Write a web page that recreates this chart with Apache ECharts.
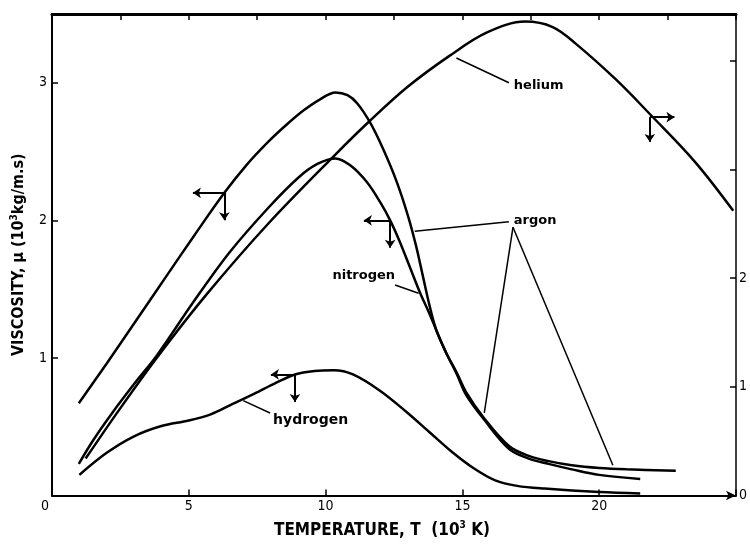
<!DOCTYPE html>
<html>
<head>
<meta charset="utf-8">
<script src="https://cdn.jsdelivr.net/npm/echarts@6/dist/echarts.min.js"></script>
<style>html,body{margin:0;padding:0;background:#fff}#c{width:750px;height:544px}</style>
</head>
<body>
<div id="c"></div>
<script>
// Temperature (10^3 K) and viscosity values
const argonT = [0.98, 2.0, 3.0, 4.2, 5.2, 6.3, 7.1, 7.9, 8.6, 9.2, 9.8, 10.36, 10.8, 11.16, 11.63, 12.1, 12.6, 13.0, 13.3, 13.55, 13.8, 14.05, 14.4, 14.8, 15.14, 15.8, 16.7, 17.4, 18.15, 19.0, 20.0, 21.0, 22.8];
const argonMu = [0.67, 0.96, 1.25, 1.60, 1.89, 2.20, 2.40, 2.57, 2.70, 2.80, 2.88, 2.93, 2.91, 2.85, 2.71, 2.52, 2.28, 2.04, 1.82, 1.60, 1.38, 1.20, 1.04, 0.89, 0.75, 0.56, 0.36, 0.29, 0.25, 0.22, 0.20, 0.19, 0.18];

const nitrogenT = [0.98, 1.5, 2.2, 3.0, 3.84, 5.18, 6.5, 7.9, 9.0, 9.7, 10.36, 10.9, 11.5, 12.0, 12.36, 12.7, 13.1, 13.46, 13.8, 14.05, 14.4, 14.8, 15.14, 15.8, 16.7, 17.4, 18.15, 19.0, 20.0, 21.5];
const nitrogenMu = [0.23, 0.40, 0.60, 0.81, 1.02, 1.41, 1.77, 2.09, 2.31, 2.41, 2.45, 2.40, 2.28, 2.13, 2.00, 1.85, 1.65, 1.47, 1.32, 1.20, 1.04, 0.88, 0.73, 0.55, 0.34, 0.27, 0.23, 0.19, 0.15, 0.12];

const heliumT = [1.23, 2.46, 3.84, 5.65, 7.9, 10.33, 11.63, 13.0, 14.5, 15.9, 17.3, 18.3, 19.13, 20.6, 21.85, 23.5, 24.9];
const heliumMu = [0.34, 0.79, 1.27, 1.85, 2.50, 3.13, 3.45, 3.76, 4.04, 4.26, 4.36, 4.31, 4.16, 3.83, 3.51, 3.07, 2.62];

const hydrogenT = [1.0, 2.0, 3.0, 4.0, 5.0, 5.8, 6.5, 7.4, 8.2, 8.88, 9.6, 10.3, 11.0, 12.0, 13.0, 13.8, 14.6, 15.4, 16.2, 17.0, 18.0, 20.0, 21.5];
const hydrogenMu = [0.15, 0.31, 0.43, 0.505, 0.545, 0.59, 0.655, 0.74, 0.82, 0.88, 0.905, 0.91, 0.88, 0.76, 0.60, 0.46, 0.32, 0.20, 0.11, 0.07, 0.05, 0.025, 0.015];

// Annotation anchors (data units, left axis)
const labelNames = ['helium', 'argon', 'nitrogen', 'hydrogen'];
const labelAt = [[16.88, 2.98], [16.88, 2.00], [10.25, 1.60], [8.08, 0.545]];
const labelSizes = [13, 13, 13, 14];
const pointerLines = [
  [[16.7, 3.00], [14.78, 3.18]],
  [[16.7, 1.99], [13.26, 1.92]],
  [[16.85, 1.95], [15.8, 0.60]],
  [[16.85, 1.95], [20.5, 0.22]],
  [[12.54, 1.53], [13.4, 1.47]],
  [[7.97, 0.60], [6.99, 0.69]]
];
const arrowLines = [
  [[6.3, 2.20], [5.15, 2.20]], [[6.3, 2.20], [6.3, 2.00]],
  [[12.36, 2.00], [11.4, 2.00]], [[12.36, 2.00], [12.36, 1.80]],
  [[8.88, 0.88], [8.0, 0.88]], [[8.88, 0.88], [8.88, 0.68]],
  [[21.85, 2.75], [22.75, 2.75]], [[21.85, 2.75], [21.85, 2.57]]
];
const xTicks = [0, 5, 10, 15, 20];
const leftTicks = [1, 2, 3];
const rightTicks = [0, 1, 2];

const zip = (a, b) => a.map((v, i) => [v, b[i]]);
const tickFont = "'Liberation Sans Narrow','DejaVu Sans Condensed','Liberation Sans',sans-serif";

const curve = (name, t, mu, yIdx) => ({
  name, type: 'line', xAxisIndex: 0, yAxisIndex: yIdx, data: zip(t, mu),
  smooth: 0.35, showSymbol: false, symbol: 'none',
  lineStyle: { color: '#000', width: 2.5 }
});

const chart = echarts.init(document.getElementById('c'), null, { renderer: 'canvas' });
const argonSeries = curve('argon', argonT, argonMu, 0);
argonSeries.markLine = {
  silent: true, animation: false, symbol: ['none', 'none'],
  lineStyle: { color: '#000', type: 'solid', width: 1.5 }, label: { show: false },
  data: pointerLines.map(p => [{ coord: p[0] }, { coord: p[1] }])
};
const hydrogenSeries = curve('hydrogen', hydrogenT, hydrogenMu, 0);
hydrogenSeries.markLine = {
  silent: true, animation: false, symbol: ['none', 'arrow'], symbolSize: 8,
  lineStyle: { color: '#000', type: 'solid', width: 2 }, label: { show: false },
  data: arrowLines.map(p => [{ coord: p[0] }, { coord: p[1] }])
};
const nitrogenSeries = curve('nitrogen', nitrogenT, nitrogenMu, 0);
nitrogenSeries.markPoint = {
  silent: true, animation: false, symbol: 'circle', symbolSize: 0,
  data: labelNames.map((n, i) => ({ name: n, coord: labelAt[i],
    label: { show: true, position: 'right', distance: 0, formatter: '{b}', color: '#000',
      fontFamily: "'DejaVu Sans',sans-serif", fontWeight: 'bold', fontSize: labelSizes[i] } }))
};

chart.setOption({
  animation: false,
  backgroundColor: '#fff',
  grid: { left: 52, right: 8, top: 14, bottom: 48, containLabel: false },
  xAxis: [
    {
      type: 'value', position: 'bottom', min: 0, max: 25, interval: 5,
      name: '{b|TEMPERATURE, T  (10}{s|3}{b| K)}', nameLocation: 'middle', nameGap: 25,
      nameTextStyle: { padding: [0, 24, 0, 0], rich: {
        b: { fontFamily: tickFont, fontWeight: 'bold', fontSize: 17, color: '#000' },
        s: { fontFamily: tickFont, fontWeight: 'bold', fontSize: 10, color: '#000', padding: [0, 0, 10, 0] }
      } },
      axisLine: { onZero: false, lineStyle: { color: '#000', width: 2 }, symbol: ['none', 'arrow'], symbolSize: [7, 10] },
      axisTick: { inside: true, length: 6, lineStyle: { color: '#000', width: 1.5 } },
      splitLine: { show: false },
      axisLabel: { margin: 4, color: '#000', fontFamily: tickFont, fontSize: 14,
        formatter: v => xTicks.includes(v) ? (v === 0 ? '{z|0}' : String(v)) : '',
        rich: { z: { padding: [0, 14, 0, 0], fontFamily: tickFont, fontSize: 14, color: '#000' } } }
    },
    {
      type: 'value', position: 'top', min: 0, max: 25, interval: 2.5,
      axisLine: { onZero: false, lineStyle: { color: '#000', width: 3 } },
      axisTick: { inside: true, length: 6, lineStyle: { color: '#000', width: 1.5 } },
      axisLabel: { show: false }, splitLine: { show: false }
    }
  ],
  yAxis: [
    {
      type: 'value', position: 'left', min: 0, max: 3.5, interval: 1,
      name: '{b|VISCOSITY, μ (10}{s|3}{b|kg/m.s)}', nameLocation: 'middle', nameGap: 24,
      nameTextStyle: { rich: {
        b: { fontFamily: tickFont, fontWeight: 'bold', fontSize: 16, color: '#000' },
        s: { fontFamily: tickFont, fontWeight: 'bold', fontSize: 10, color: '#000', padding: [0, 0, 9, 0] }
      } },
      axisLine: { show: true, onZero: false, lineStyle: { color: '#000', width: 2 } },
      axisTick: { inside: true, length: 6, lineStyle: { color: '#000', width: 1.5 } },
      splitLine: { show: false },
      axisLabel: { margin: 5, color: '#000', fontFamily: tickFont, fontSize: 14,
        formatter: v => leftTicks.includes(v) ? String(v) : '' }
    },
    {
      type: 'value', position: 'right', min: 0, max: 4.43, interval: 1,
      axisLine: { show: true, onZero: false, lineStyle: { color: '#000', width: 1.5 } },
      axisTick: { inside: true, length: 6, lineStyle: { color: '#000', width: 1.5 } },
      splitLine: { show: false },
      axisLabel: { margin: 3, color: '#000', fontFamily: tickFont, fontSize: 14,
        formatter: v => rightTicks.includes(v) ? String(v) : '' }
    }
  ],
  series: [
    argonSeries,
    nitrogenSeries,
    curve('helium', heliumT, heliumMu, 1),
    hydrogenSeries
  ]
});
</script>
</body>
</html>
